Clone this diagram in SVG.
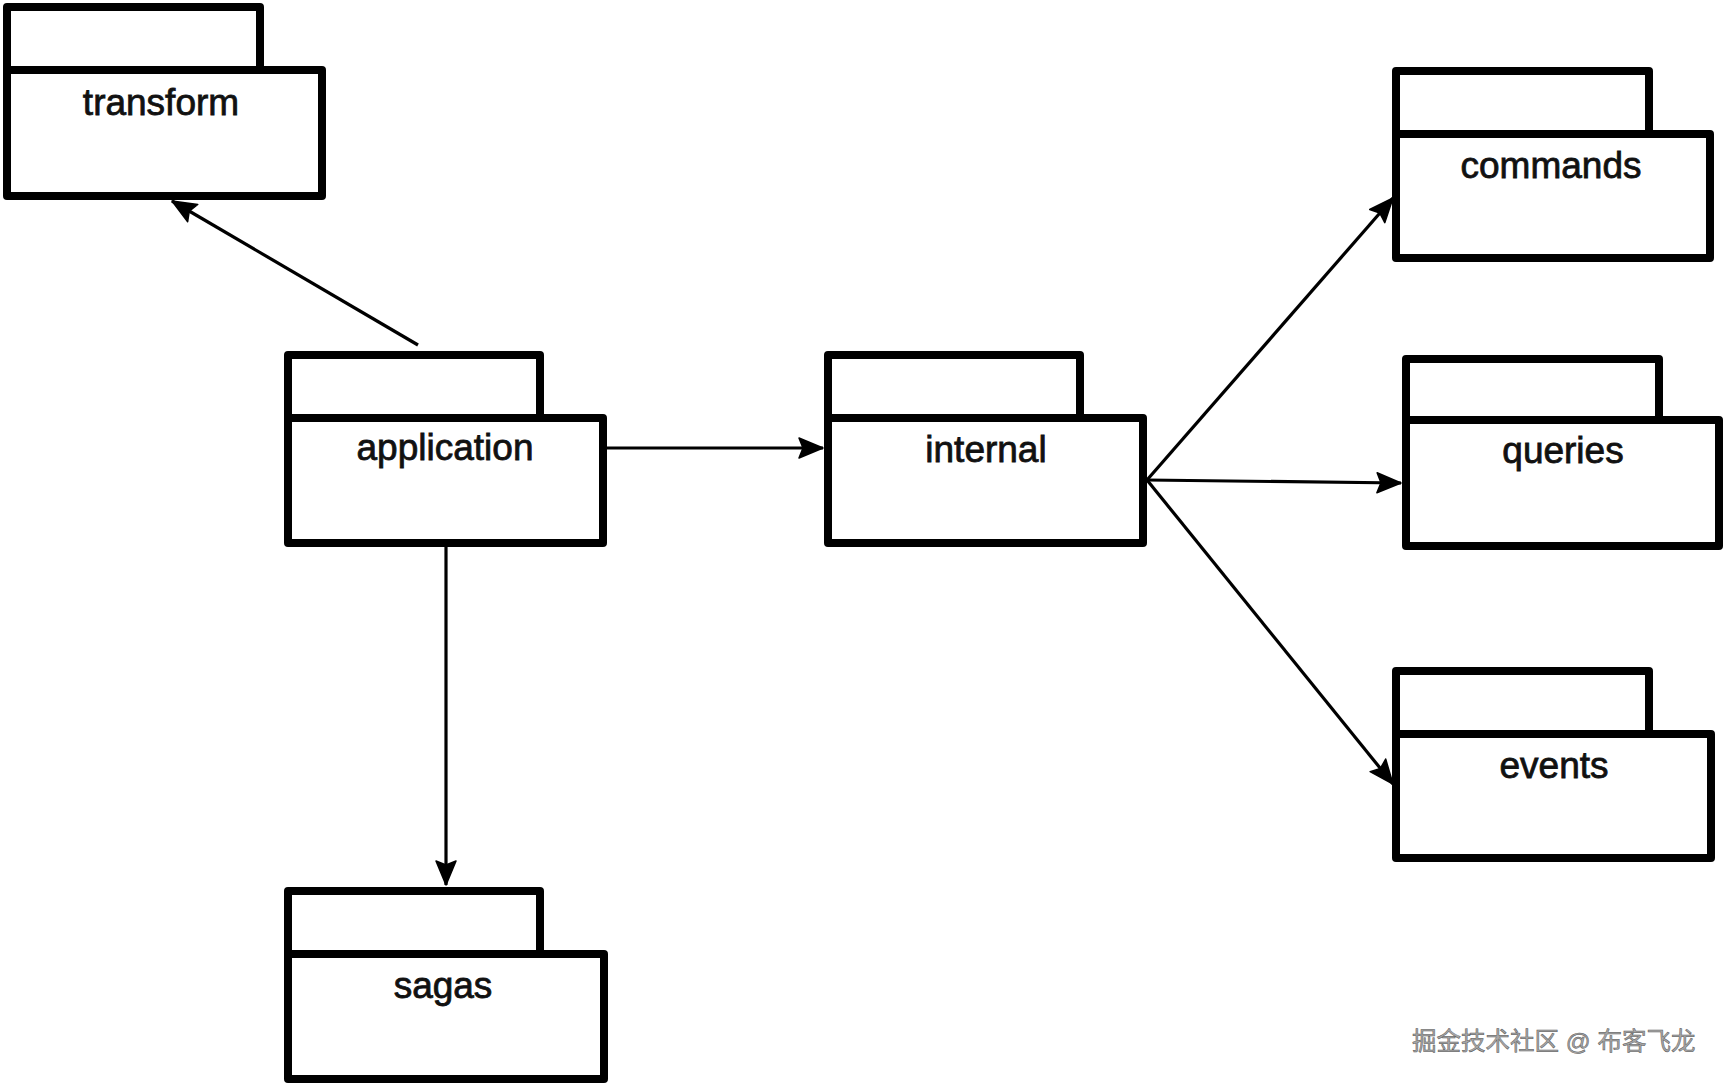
<svg xmlns="http://www.w3.org/2000/svg" width="1725" height="1084" viewBox="0 0 1725 1084">
<style>
.box{fill:#fff;stroke:#000;stroke-width:8;stroke-linejoin:round}
.lbl{font-family:"Liberation Sans",Arial,sans-serif;font-size:37px;fill:#111;stroke:#111;stroke-width:0.8;text-anchor:middle}
.edge{stroke:#000;stroke-width:3.2;fill:none}
.wm{font-family:"Liberation Sans","Noto Sans CJK SC",sans-serif;font-size:24.5px;fill:#a8a8a8;stroke:#555;stroke-width:0.5}
</style>
<defs>
<marker id="arr" viewBox="-26 -12 28 24" refX="0" refY="0" markerWidth="28" markerHeight="24" markerUnits="userSpaceOnUse" orient="auto">
<path d="M0,0 L-24,-10 L-20,0 L-24,10 Z" fill="#000" stroke="#000" stroke-width="1.5" stroke-linejoin="round"/>
</marker>
</defs>
<rect width="1725" height="1084" fill="#fff"/>
<g id="connectors">
<line class="edge" x1="418" y1="345" x2="172" y2="201" marker-end="url(#arr)"/>
<line class="edge" x1="607" y1="448" x2="823" y2="448" marker-end="url(#arr)"/>
<line class="edge" x1="446" y1="547" x2="446" y2="885" marker-end="url(#arr)"/>
<line class="edge" x1="1147" y1="480" x2="1393" y2="198" marker-end="url(#arr)"/>
<line class="edge" x1="1147" y1="480" x2="1401" y2="483" marker-end="url(#arr)"/>
<line class="edge" x1="1147" y1="480" x2="1393" y2="784" marker-end="url(#arr)"/>
</g>
<g id="transform">
<rect class="box" x="7" y="7" width="253" height="63"/>
<rect class="box" x="7" y="70" width="315" height="126"/>
<text class="lbl" x="161" y="115">transform</text>
</g>
<g id="application">
<rect class="box" x="288" y="355" width="252" height="63"/>
<rect class="box" x="288" y="418" width="315" height="125"/>
<text class="lbl" x="445" y="460">application</text>
</g>
<g id="internal">
<rect class="box" x="828" y="355" width="252" height="63"/>
<rect class="box" x="828" y="418" width="315" height="125"/>
<text class="lbl" x="986" y="462">internal</text>
</g>
<g id="commands">
<rect class="box" x="1396" y="71" width="253" height="63"/>
<rect class="box" x="1396" y="134" width="314" height="124"/>
<text class="lbl" x="1551" y="178">commands</text>
</g>
<g id="queries">
<rect class="box" x="1406" y="359" width="253" height="61"/>
<rect class="box" x="1406" y="420" width="313" height="126"/>
<text class="lbl" x="1563" y="463">queries</text>
</g>
<g id="events">
<rect class="box" x="1396" y="671" width="253" height="63"/>
<rect class="box" x="1396" y="734" width="315" height="124"/>
<text class="lbl" x="1554" y="778">events</text>
</g>
<g id="sagas">
<rect class="box" x="288" y="891" width="252" height="63"/>
<rect class="box" x="288" y="954" width="316" height="125"/>
<text class="lbl" x="443" y="998">sagas</text>
</g>
<text class="wm" x="1412" y="1050">掘金技术社区 @ 布客飞龙</text>
</svg>
